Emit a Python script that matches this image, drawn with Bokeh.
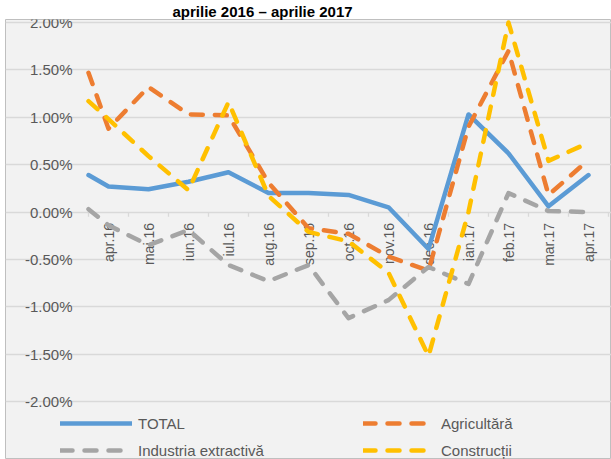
import math
from bokeh.plotting import figure
from bokeh.models import Range1d, Legend, LegendItem, FixedTicker
from bokeh.core.properties import value
from bokeh.embed import file_html
from bokeh.resources import INLINE

months = ["apr.16", "mai.16", "iun.16", "iul.16", "aug.16", "sep.16", "oct.16",
          "nov.16", "dec.16", "ian.17", "feb.17", "mar.17", "apr.17"]
# every series starts at the left edge of the plot, half a category before apr.16
x_pos = [-0.5] + list(range(len(months)))

total = [0.39, 0.27, 0.24, 0.32, 0.42, 0.20, 0.20, 0.18, 0.05, -0.39, 1.03, 0.62, 0.06, 0.39]
agricultura = [1.47, 0.88, 1.32, 1.03, 1.02, 0.31, -0.17, -0.23, -0.47, -0.62, 0.90, 1.70, 0.18, 0.55]
industria = [0.03, -0.14, -0.35, -0.19, -0.56, -0.73, -0.56, -1.12, -0.93, -0.58, -0.76, 0.20, 0.01, 0.00]
constructii = [1.17, 0.98, 0.59, 0.23, 1.16, 0.17, -0.21, -0.31, -0.64, -1.52, 0.00, 2.00, 0.54, 0.73]

y_ticks = [-2.0, -1.5, -1.0, -0.5, 0.0, 0.5, 1.0, 1.5, 2.0]
y_tick_labels = [f"{t:.2f}%" for t in y_ticks]
title_text = "aprilie 2016 – aprilie 2017"

FONT = "Liberation Sans"
GREY_TXT = "#595959"
BG = "#f2f2f2"
GRID = "#d9d9d9"

n = len(months)
# frame covers the whole chart box; the category area spans -0.5 .. n-0.5
p = figure(width=611, height=459, output_backend="svg", toolbar_location=None,
           x_range=Range1d(-2.575, n - 0.425), y_range=Range1d(-2.612, 2.032),
           min_border_left=5, min_border_right=0, min_border_bottom=0, min_border_top=0)

p.title.text = title_text
p.title.text_font = FONT
p.title.text_font_style = "bold"
p.title.text_font_size = "15px"
p.title.text_color = "#000000"
p.title.align = "left"
p.title.offset = 167
p.title.standoff = 0

p.background_fill_color = BG
p.border_fill_color = "white"
p.outline_line_color = "#bfbfbf"
p.outline_line_width = 1

p.xaxis.visible = False
p.yaxis.visible = False
p.xgrid.visible = False

p.ygrid.ticker = FixedTicker(ticks=y_ticks)
p.ygrid.grid_line_color = GRID
p.ygrid.grid_line_width = 1.3
p.ygrid.bounds = (-0.5, n - 0.5)

# value labels of the vertical scale
p.text(x=[-0.5] * len(y_ticks), y=y_ticks, text=y_tick_labels, x_offset=-16,
       text_align="right", text_baseline="middle",
       text_font=value(FONT), text_font_size="15px", text_color=GREY_TXT)

# small tick marks on the zero axis, between categories
bounds = [i - 0.5 for i in range(n + 1)]
p.segment(x0=bounds, y0=[0] * len(bounds), x1=bounds, y1=[-0.05] * len(bounds),
          line_color=GRID, line_width=1.3)

# category labels, rotated, hanging just below the zero line
p.text(x=list(range(n)), y=[0] * n, text=months,
       angle=math.pi / 2, text_align="right", text_baseline="middle", y_offset=11,
       text_font=value(FONT), text_font_size="14px", text_color=GREY_TXT)

DASH = "12 12"
r_total = p.line(x_pos, total, line_color="#5b9bd5", line_width=4.5,
                 line_cap="round", line_join="round")
r_agri = p.line(x_pos, agricultura, line_color="#ed7d31", line_width=4.5,
                line_dash=DASH, line_cap="round", line_join="round")
r_ind = p.line(x_pos, industria, line_color="#a5a5a5", line_width=4.5,
               line_dash=DASH, line_cap="round", line_join="round")
r_con = p.line(x_pos, constructii, line_color="#ffc000", line_width=4.5,
               line_dash=DASH, line_cap="round", line_join="round")

legend = Legend(items=[LegendItem(label="TOTAL", renderers=[r_total]),
                       LegendItem(label="Agricultără", renderers=[r_agri]),
                       LegendItem(label="Industria extractivă", renderers=[r_ind]),
                       LegendItem(label="Construcții", renderers=[r_con])],
                location=(55, 0), orientation="horizontal", ncols=2,
                glyph_width=72, glyph_height=18, label_height=18, label_standoff=6,
                label_width=216, spacing=9, padding=4, margin=0,
                background_fill_alpha=0, border_line_color=None,
                label_text_font=FONT, label_text_font_size="15px",
                label_text_color=GREY_TXT)
p.add_layout(legend)

open("out.html", "w").write(file_html(p, INLINE))
